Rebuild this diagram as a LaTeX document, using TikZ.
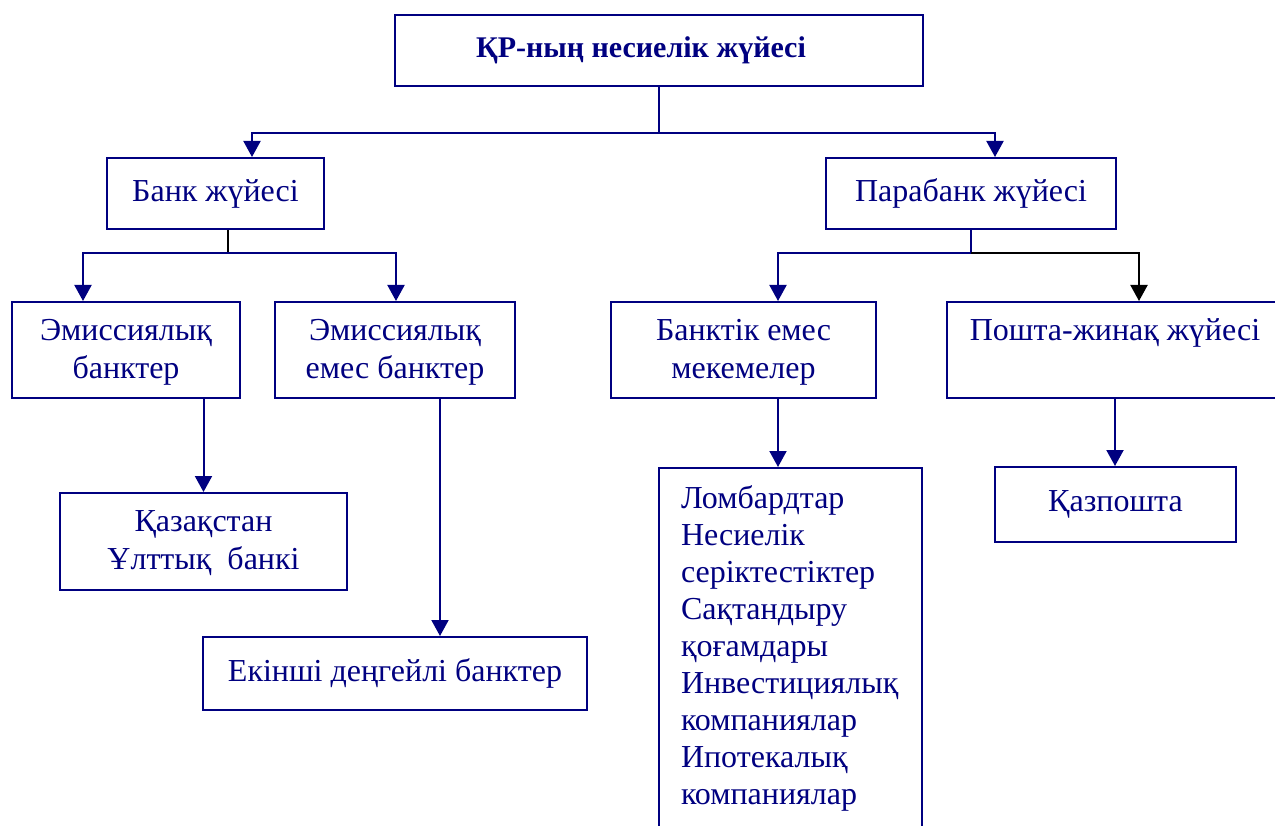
\documentclass[tikz,border=0pt]{standalone}
\usepackage{fontspec}
\setmainfont{Liberation Serif}
\usetikzlibrary{arrows.meta}
\definecolor{navy}{RGB}{0,0,128}
\newcommand{\topgap}{\rule{0pt}{30pt}}

\begin{document}
\begin{tikzpicture}[x=1pt,y=-1pt,
    every node/.style={font=\fontsize{32}{38}\selectfont,text=navy},
    box/.style={draw=navy,line width=2pt,align=center,inner sep=0pt},
    arr/.style={draw=navy,line width=2pt,-{Triangle[width=17pt,length=16pt]}},
    link/.style={draw=navy,line width=2pt}]
  \clip (0,0) rectangle (1275,826);
  % ---- top level ----
  \node[box,minimum width=528,minimum height=71,font=\fontsize{30}{36}\selectfont\bfseries] (root) at (659,50.5)
       {ҚР-ның несиелік жүйесі\hspace{36pt}};
  \coordinate (j0) at (659,133);
  \draw[link] (root) -- (j0);
  % ---- second level ----
  \node[box,minimum width=217,minimum height=71] (bank) at (215.5,193.5) {Банк жүйесі};
  \node[box,minimum width=290,minimum height=71] (para) at (971,193.5) {Парабанк жүйесі};
  \draw[arr] (j0) -| ([xshift=36.5]bank.north);
  \draw[arr] (j0) -| ([xshift=24]para.north);
  % ---- bank branch ----
  \node[box,minimum width=228,minimum height=96] (emis) at (126,350) {\topgap Эмиссиялық\\банктер\strut};
  \node[box,minimum width=240,minimum height=96] (emisno) at (395,350) {\topgap Эмиссиялық\\емес банктер\strut};
  \coordinate (j1) at (228,253);
  \draw[line width=2pt] ([xshift=12.5]bank.south) -- (j1);
  \draw[arr] (j1) -| ([xshift=-43]emis.north);
  \draw[arr] (j1) -| ([xshift=1]emisno.north);
  % ---- parabank branch ----
  \node[box,minimum width=265,minimum height=96] (nonbank) at (743.5,350) {\topgap Банктік емес\\мекемелер\strut};
  \node[box,minimum width=336,minimum height=96] (post) at (1115,350) {\topgap Пошта-жинақ жүйесі\\\strut};
  \coordinate (j2) at (971,253);
  \draw[link] (para) -- (j2);
  \draw[arr] (j2) -| ([xshift=34.5]nonbank.north);
  \draw[line width=2pt,-{Triangle[width=17pt,length=16pt]}] (j2) -| ([xshift=24]post.north);
  % ---- bottom level ----
  \node[box,minimum width=287,minimum height=97] (kaz) at (203.5,541.5) {\topgap Қазақстан\\Ұлттық~ банкі\strut};
  \node[box,minimum width=384,minimum height=73] (second) at (395,673.5) {Екінші деңгейлі банктер};
  \node[box,anchor=north,align=left,text width=219,inner xsep=22,inner ysep=18,
        font=\fontsize{32}{37}\selectfont] (list) at (790.5,467)
       {Ломбардтар\\Несиелік\\серіктестіктер\\Сақтандыру\\қоғамдары\\Инвестициялық\\компаниялар\\Ипотекалық\\компаниялар\\\strut};
  \node[box,minimum width=241,minimum height=75] (kazpost) at (1115.5,504.5) {Қазпошта};
  \draw[arr] (emis.south -| kaz.north) -- (kaz.north);
  \draw[arr] ([xshift=45]emisno.south) -- ([xshift=45]emisno.south |- second.north);
  \draw[arr] ([xshift=34.5]nonbank.south) -- ([xshift=34.5]nonbank.south |- list.north);
  \draw[arr] (post.south) -- (post.south |- kazpost.north);
\end{tikzpicture}
\end{document}
